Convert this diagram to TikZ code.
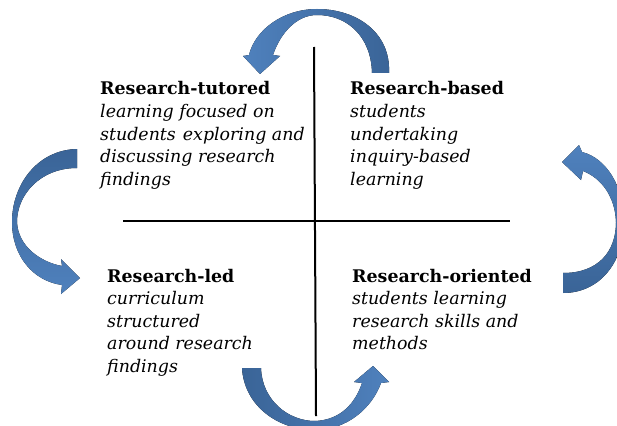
\documentclass[tikz,border=0pt]{standalone}
\usepackage{fontspec}
\setmainfont{DejaVu Serif}
\definecolor{arrowlight}{HTML}{4F81BD}
\definecolor{arrowdark}{HTML}{3A6497}
\begin{document}
\begin{tikzpicture}[x=1pt,y=-1pt,
  axis/.style={line width=2pt, black},
  quad/.style={anchor=base west, inner sep=0pt,
    font=\fontsize{17.4}{22.6}\selectfont},
]
\useasboundingbox (0,0) rectangle (617,425);
\clip (0,0) rectangle (617,425);

% quadrant axes
\coordinate (vtop) at (314,47);
\coordinate (vbot) at (316,416);
\coordinate (hleft) at (123,221);
\coordinate (hright) at (510,221);
\draw[axis] (vtop) -- (vbot);
\draw[axis] (hleft) -- (hright);

% curved block arrows circulating round the quadrants
\fill[left color=arrowlight, right color=arrowdark]
  (389,73) .. controls (391,32) and (356,9) .. (317,9)
  .. controls (283,9) and (255,30) .. (249,55)
  -- (243,56) -- (260,74) -- (280,56) -- (273,55)
  .. controls (280,34) and (296,15) .. (317,15)
  .. controls (347,15) and (371,36) .. (372,73) -- cycle;

\fill[top color=arrowdark, bottom color=arrowlight]
  (77,149) .. controls (37,150) and (12,185) .. (12,222)
  .. controls (12,256) and (33,281) .. (62,285)
  -- (61,294) -- (80,278) -- (61,259) -- (62,266)
  .. controls (40,262) and (18,246) .. (17,222)
  .. controls (17,195) and (40,168) .. (77,168) -- cycle;

\fill[top color=arrowlight, bottom color=arrowdark]
  (563,293) .. controls (600,293) and (624,262) .. (624,222)
  .. controls (624,186) and (606,158) .. (582,152)
  -- (579,145) -- (562,162) -- (581,180) -- (583,171)
  .. controls (601,178) and (615,196) .. (616,222)
  .. controls (616,252) and (598,273) .. (563,273) -- cycle;

\fill[left color=arrowdark, right color=arrowlight]
  (242,368) .. controls (244,405) and (277,430) .. (315,430)
  .. controls (347,430) and (372,408) .. (381,383)
  -- (389,382) -- (373,366) -- (354,382) -- (362,383)
  .. controls (355,404) and (340,420) .. (315,421)
  .. controls (288,421) and (262,400) .. (261,368) -- cycle;

% quadrant descriptions
\node[quad] (tutored) at (100,95) {\parbox[t]{230pt}{\raggedright
  \textbf{Research-tutored}\\
  \textit{learning focused on}\\
  \textit{students\hspace{7pt}exploring and}\\
  \textit{discussing research}\\
  \textit{findings}}};
\node[quad] (based) at (350,95) {\parbox[t]{220pt}{\raggedright
  \textbf{Research-based}\\
  \textit{students}\\
  \textit{undertaking}\\
  \textit{inquiry-based}\\
  \textit{learning}}};
\node[quad] (led) at (107,282) {\parbox[t]{220pt}{\raggedright
  \textbf{Research-led}\\
  \textit{curriculum}\\
  \textit{structured}\\
  \textit{around research}\\
  \textit{findings}}};
\node[quad] (oriented) at (352,282) {\parbox[t]{240pt}{\raggedright
  \textbf{Research-oriented}\\
  \textit{students learning}\\
  \textit{research skills and}\\
  \textit{methods}}};
\end{tikzpicture}
\end{document}
